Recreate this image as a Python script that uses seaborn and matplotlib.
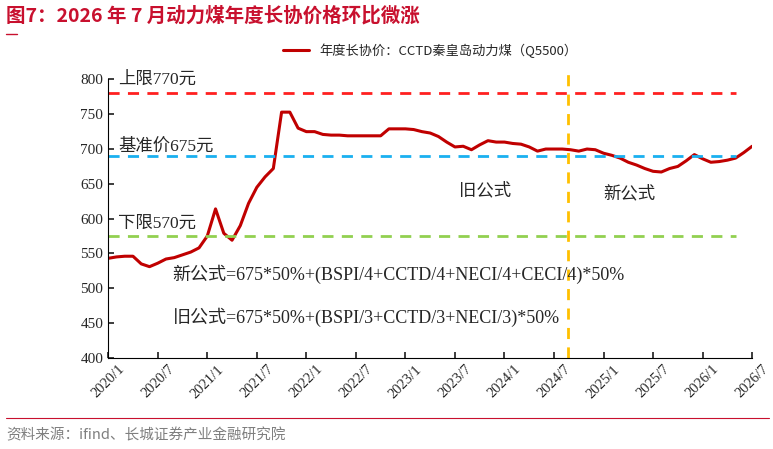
import matplotlib
matplotlib.use("Agg")
import matplotlib.pyplot as plt
import seaborn as sns
import pandas as pd
from matplotlib.lines import Line2D

values = [543,545,546,546,535,531,536,542,544,548,552,558,575,614,579,569,590,622,645,660,672,753,753,730,
          725,725,721,720,720,719,719,719,719,719,729,729,729,728,725,723,718,710,703,704,699,706,712,710,
          710,708,707,703,697,700,700,700,699,697,700,699,694,691,687,681,677,672,668,667,672,675,683,692,
          686,681,682,684,687,695,704]
months = [f"{2020 + i // 12}/{i % 12 + 1}" for i in range(len(values))]
upper, base, lower = 780, 690, 575
ref_end = 76
switch_pos = 55.7
tick_labels = months[::6]

sns.set_theme(style="white")
plt.rcParams['font.family'] = ['Noto Sans CJK SC', 'DejaVu Sans']
plt.rcParams['axes.unicode_minus'] = False

df = pd.DataFrame({"x": range(len(values)), "v": values})
fig = plt.figure(figsize=(7.73, 4.49), dpi=100)
# 400 at y=358px, 818 at ~y=67px
ax = fig.add_axes([0.14, 0.203, 0.833, 0.648])
sns.lineplot(data=df, x="x", y="v", ax=ax, color="#c00000", lw=2.2)
for val, c in [(upper, "#ff2020"), (base, "#1ab0f0"), (lower, "#92d050")]:
    ax.plot([0, ref_end], [val, val], ls=(0, (4, 3)), color=c, lw=2)
ax.axvline(switch_pos, ymin=0, ymax=1, color="#ffc000", ls=(0, (4, 3)), lw=2)

ax.set_xlim(0, 78)
ax.set_ylim(400, 818)
ax.set_yticks(range(400, 801, 50))
ax.set_xticks(range(0, len(values), 6))
ax.set_xticklabels(tick_labels, rotation=45, fontsize=10.5, fontfamily=['Liberation Serif', 'DejaVu Serif'])
ax.tick_params(axis='y', labelsize=11, direction='in', length=4, left=True)
ax.tick_params(axis='x', direction='in', length=4, bottom=True)
for lab in ax.get_yticklabels():
    lab.set_fontfamily(['Liberation Serif', 'DejaVu Serif'])
ax.set_xlabel(""); ax.set_ylabel("")
for s in ["top", "right"]:
    ax.spines[s].set_visible(False)
ax.spines["left"].set_bounds(400, 800)
for s in ["left", "bottom"]:
    ax.spines[s].set_color("black"); ax.spines[s].set_linewidth(0.8)

serif = ['Liberation Serif', 'Noto Sans CJK SC']
ax.text(1.2, 800, "上限770元", fontsize=12.5, family=serif, va="center")
ax.text(1.2, 703, "基准价675元", fontsize=12.5, family=serif, va="center")
ax.text(1.2, 593, "下限570元", fontsize=12.5, family=serif, va="center")
ax.text(42.5, 640, "旧公式", fontsize=12.5, family=serif, va="center")
ax.text(60, 635, "新公式", fontsize=12.5, family=serif, va="center")
ax.text(7.8, 520, "新公式=675*50%+(BSPI/4+CCTD/4+NECI/4+CECI/4)*50%", fontsize=13, family=serif, va="center")
ax.text(7.8, 458, "旧公式=675*50%+(BSPI/3+CCTD/3+NECI/3)*50%", fontsize=13, family=serif, va="center")

ax.legend(handles=[Line2D([], [], color="#c00000", lw=2.2)],
          labels=["年度长协价：CCTD秦皇岛动力煤（Q5500）"], loc="lower center",
          bbox_to_anchor=(0.5, 0.99), frameon=False, fontsize=9.5)

fig.text(0.008, 0.965, "图7：2026 年 7 月动力煤年度长协价格环比微涨", color="#c8102e",
         fontsize=14, fontweight="bold", style="italic", va="center")
fig.add_artist(Line2D([0.008, 0.022], [0.925, 0.925], color="#c8102e", lw=1))
fig.add_artist(Line2D([0.008, 0.995], [0.068, 0.068], color="#c8102e", lw=0.8))
fig.text(0.008, 0.03, "资料来源：ifind、长城证券产业金融研究院", color="#7f7f7f",
         fontsize=10.5, style="italic", va="center")
fig.savefig("out.png", dpi=100)
